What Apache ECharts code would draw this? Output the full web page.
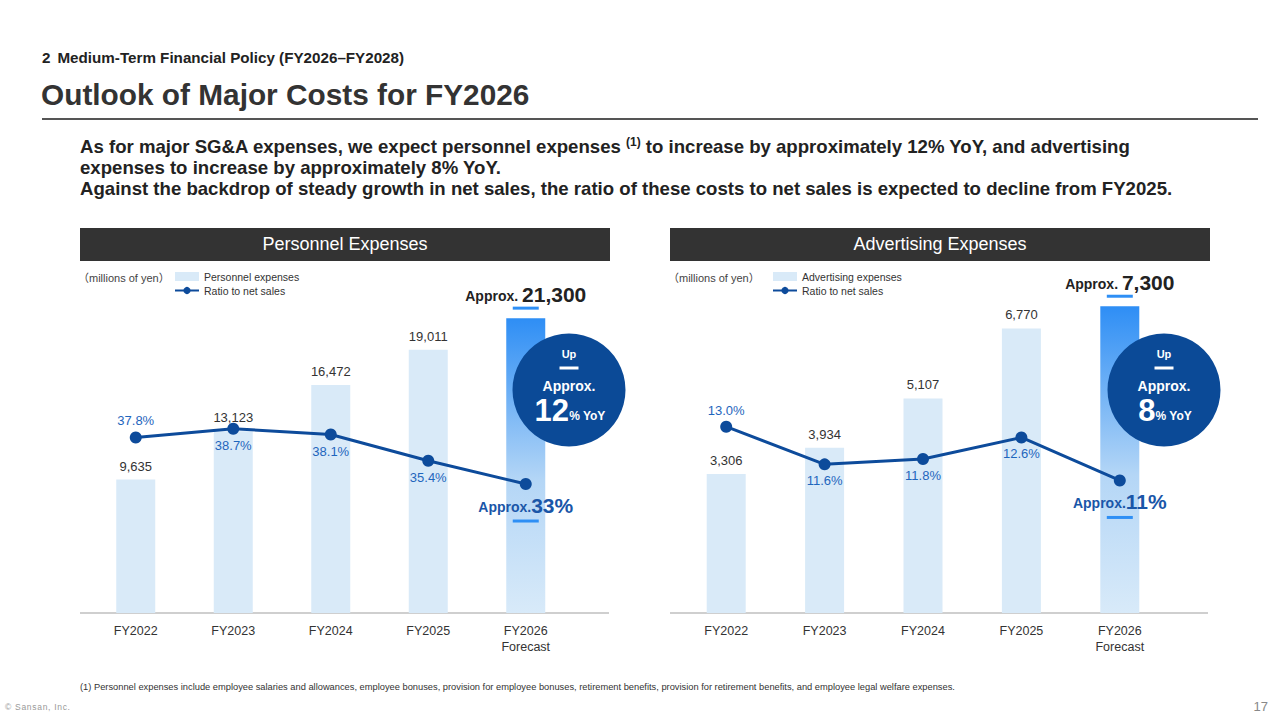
<!DOCTYPE html>
<html>
<head>
<meta charset="utf-8">
<script src="https://cdn.jsdelivr.net/npm/echarts@6/dist/echarts.min.js"></script>
<style>
  body { margin:0; background:#fff; font-family:"Liberation Sans", Arial, "Noto Sans CJK JP", sans-serif; }
  #page { position:relative; width:1280px; height:720px; overflow:hidden; }
  .t { position:absolute; white-space:nowrap; }
  .head-bar { position:absolute; top:228px; height:33px; line-height:33px; background:#333; color:#fff; font-size:18px; text-align:center; }
  #chart { position:absolute; left:0; top:0; width:1280px; height:720px; }
</style>
</head>
<body>
<div id="page">
  <div class="t" style="left:42px;top:49px;font-size:15.2px;line-height:18px;font-weight:bold;color:#222;">2<span style="margin-left:7px;">Medium-Term Financial Policy (FY2026–FY2028)</span></div>
  <div class="t" style="left:41px;top:78px;font-size:29.8px;line-height:34px;font-weight:bold;color:#333;">Outlook of Major Costs for FY2026</div>
  <div style="position:absolute;left:42px;top:118px;width:1216px;height:1.5px;background:#555;"></div>
  <div class="t" style="left:80px;top:136px;font-size:18.6px;line-height:21px;font-weight:bold;color:#222;">
    As for major SG&amp;A expenses, we expect personnel expenses <sup style="font-size:12px;line-height:0;">(1)</sup> to increase by approximately 12% YoY, and advertising<br>
    expenses to increase by approximately 8% YoY.<br>
    Against the backdrop of steady growth in net sales, the ratio of these costs to net sales is expected to decline from FY2025.
  </div>
  <div class="head-bar" style="left:80px;width:530px;">Personnel Expenses</div>
  <div class="head-bar" style="left:670px;width:540px;">Advertising Expenses</div>
  <div class="t" style="left:78px;top:271px;font-size:11px;line-height:14px;color:#444;">（millions of yen）</div>
  <div class="t" style="left:668px;top:271px;font-size:11px;line-height:14px;color:#444;">（millions of yen）</div>
  <div class="t" style="left:80px;top:682px;font-size:9.3px;line-height:11px;color:#333;">(1) Personnel expenses include employee salaries and allowances, employee bonuses, provision for employee bonuses, retirement benefits, provision for retirement benefits, and employee legal welfare expenses.</div>
  <div class="t" style="left:5px;top:702px;font-size:8.5px;line-height:10px;color:#999;letter-spacing:0.7px;">© Sansan, Inc.</div>
  <div class="t" style="left:1250px;top:699px;width:18px;text-align:right;font-size:13px;line-height:16px;color:#888;">17</div>
  <div id="chart"></div>
</div>
<script>
var categories = ['FY2022', 'FY2023', 'FY2024', 'FY2025', 'FY2026\nForecast'];
var personnelExpenses = [9635, 13123, 16472, 19011, 21300];
var personnelRatio = [37.8, 38.7, 38.1, 35.4, 33];
var advertisingExpenses = [3306, 3934, 5107, 6770, 7300];
var advertisingRatio = [13.0, 11.6, 11.8, 12.6, 11];
var yoyGrowth = ['12', '8'];

var FONT = '"Liberation Sans", Arial, sans-serif';
var LIGHT_BAR = '#d9eaf8';
var DARK_BLUE = '#0d4b9b';
var LABEL_BLUE = '#1f66bd';
var DASH_BLUE = '#2e8ff5';

var chart = echarts.init(document.getElementById('chart'), null, {renderer: 'svg'});

function fmt(v) {
    return v.toLocaleString('en-US');
}

// 予測の棒はグラデーション
function barData(arr) {
    return arr.map(function(v, i) {
        if (i < arr.length - 1) return v;
        return {
            value: v,
            itemStyle: {
                color: new echarts.graphic.LinearGradient(0, 0, 0, 1, [
                    {offset: 0, color: '#2e8ef5'},
                    {offset: 0.55, color: '#b4d6f6'},
                    {offset: 1, color: '#d8eaf9'}
                ])
            }
        };
    });
}

function ratioData(arr) {
    return arr.map(function(v, i) {
        return {value: v, label: {position: i === 0 ? 'top' : 'bottom'}};
    });
}

function barSeries(name, data, idx) {
    return {
        name: name,
        type: 'bar',
        xAxisIndex: idx,
        yAxisIndex: idx * 2,
        barWidth: 39,
        itemStyle: {color: LIGHT_BAR},
        data: barData(data),
        z: 2,
        label: {
            show: true,
            position: 'top',
            distance: 7,
            color: '#333',
            fontSize: 13,
            fontFamily: FONT,
            formatter: function(p) {
                if (p.dataIndex === data.length - 1) {
                    return '{a|Approx. }{b|' + fmt(p.value) + '}\n{d|}';
                }
                return fmt(p.value);
            },
            rich: {
                a: {fontSize: 14, fontWeight: 'bold', color: '#222', fontFamily: FONT, verticalAlign: 'bottom', padding: [0, 0, 2, 0], lineHeight: 20},
                b: {fontSize: 21, fontWeight: 'bold', color: '#222', fontFamily: FONT, verticalAlign: 'bottom', lineHeight: 20},
                d: {width: 26, height: 3, backgroundColor: DASH_BLUE, lineHeight: 6}
            }
        }
    };
}

function lineSeries(data, idx) {
    return {
        name: 'Ratio to net sales',
        type: 'line',
        xAxisIndex: idx,
        yAxisIndex: idx * 2 + 1,
        data: ratioData(data),
        symbol: 'circle',
        symbolSize: 12,
        lineStyle: {width: 3, color: DARK_BLUE},
        itemStyle: {color: DARK_BLUE},
        z: 3,
        label: {
            show: true,
            distance: 4,
            color: LABEL_BLUE,
            fontSize: 13,
            fontFamily: FONT,
            formatter: function(p) {
                if (p.dataIndex === data.length - 1) {
                    return '{a|Approx.}{b|' + p.value + '%}\n{d|}';
                }
                return p.value.toFixed(1) + '%';
            },
            rich: {
                a: {fontSize: 14, fontWeight: 'bold', color: '#1a56a8', fontFamily: FONT, verticalAlign: 'bottom', padding: [0, 0, 2, 0], lineHeight: 22},
                b: {fontSize: 21, fontWeight: 'bold', color: '#1a56a8', fontFamily: FONT, verticalAlign: 'bottom', lineHeight: 22},
                d: {width: 26, height: 3, backgroundColor: DASH_BLUE, lineHeight: 10}
            }
        }
    };
}

function badge(cx, cy, num) {
    return {
        type: 'group',
        z: 100,
        children: [
            {type: 'circle', z: 100, shape: {cx: cx, cy: cy, r: 56.5}, style: {fill: '#0b4a97'}},
            {type: 'text', z: 101, x: cx, y: cy - 36, style: {text: 'Up', fill: '#fff', font: 'bold 11px ' + FONT, align: 'center', verticalAlign: 'middle'}},
            {type: 'rect', z: 101, shape: {x: cx - 9.5, y: cy - 23.5, width: 19, height: 3}, style: {fill: '#fff'}},
            {type: 'text', z: 101, x: cx, y: cy - 4, style: {text: 'Approx.', fill: '#fff', font: 'bold 14px ' + FONT, align: 'center', verticalAlign: 'middle'}},
            {type: 'text', z: 101, x: cx + 1, y: cy + 21, style: {
                text: '{n|' + num + '}{p|% YoY}',
                align: 'center', verticalAlign: 'middle',
                rich: {
                    n: {fontSize: 31, fontWeight: 'bold', fill: '#fff', fontFamily: FONT, verticalAlign: 'bottom', lineHeight: 30},
                    p: {fontSize: 12, fontWeight: 'bold', fill: '#fff', fontFamily: FONT, verticalAlign: 'bottom', padding: [0, 0, 4, 0], lineHeight: 30}
                }
            }}
        ]
    };
}

var legendCommon = {
    orient: 'vertical',
    top: 271,
    padding: 0,
    itemWidth: 24,
    itemHeight: 9,
    itemGap: 3,
    textStyle: {fontSize: 10.5, color: '#333', fontFamily: FONT},
    selectedMode: false
};

var axisLabel = {interval: 0, color: '#333', fontSize: 12.5, lineHeight: 16, margin: 10, fontFamily: FONT};

chart.setOption({
    animation: false,
    legend: [
        Object.assign({left: 174, data: [{name: 'Personnel expenses', icon: 'rect'}, 'Ratio to net sales']}, legendCommon),
        Object.assign({left: 772, data: [{name: 'Advertising expenses', icon: 'rect'}, 'Ratio to net sales']}, legendCommon)
    ],
    grid: [
        {left: 87, top: 260, width: 487.5, height: 353},
        {left: 677, top: 260, width: 492, height: 353}
    ],
    xAxis: [
        {type: 'category', gridIndex: 0, data: categories, axisLine: {show: false}, axisTick: {show: false}, axisLabel: axisLabel},
        {type: 'category', gridIndex: 1, data: categories, axisLine: {show: false}, axisTick: {show: false}, axisLabel: axisLabel}
    ],
    yAxis: [
        {type: 'value', gridIndex: 0, min: 0, max: 25500, show: false},
        {type: 'value', gridIndex: 0, min: 19.7, max: 56.1, show: false},
        {type: 'value', gridIndex: 1, min: 0, max: 8400, show: false},
        {type: 'value', gridIndex: 1, min: 6.07, max: 19.2, show: false}
    ],
    series: [
        barSeries('Personnel expenses', personnelExpenses, 0),
        lineSeries(personnelRatio, 0),
        barSeries('Advertising expenses', advertisingExpenses, 1),
        lineSeries(advertisingRatio, 1)
    ],
    graphic: [
        {type: 'line', shape: {x1: 80, y1: 613, x2: 609, y2: 613}, style: {stroke: '#bfbfbf', lineWidth: 1.5}},
        {type: 'line', shape: {x1: 670, y1: 613, x2: 1208, y2: 613}, style: {stroke: '#bfbfbf', lineWidth: 1.5}},
        badge(569, 390, yoyGrowth[0]),
        badge(1164, 390, yoyGrowth[1])
    ]
});
</script>
</body>
</html>
